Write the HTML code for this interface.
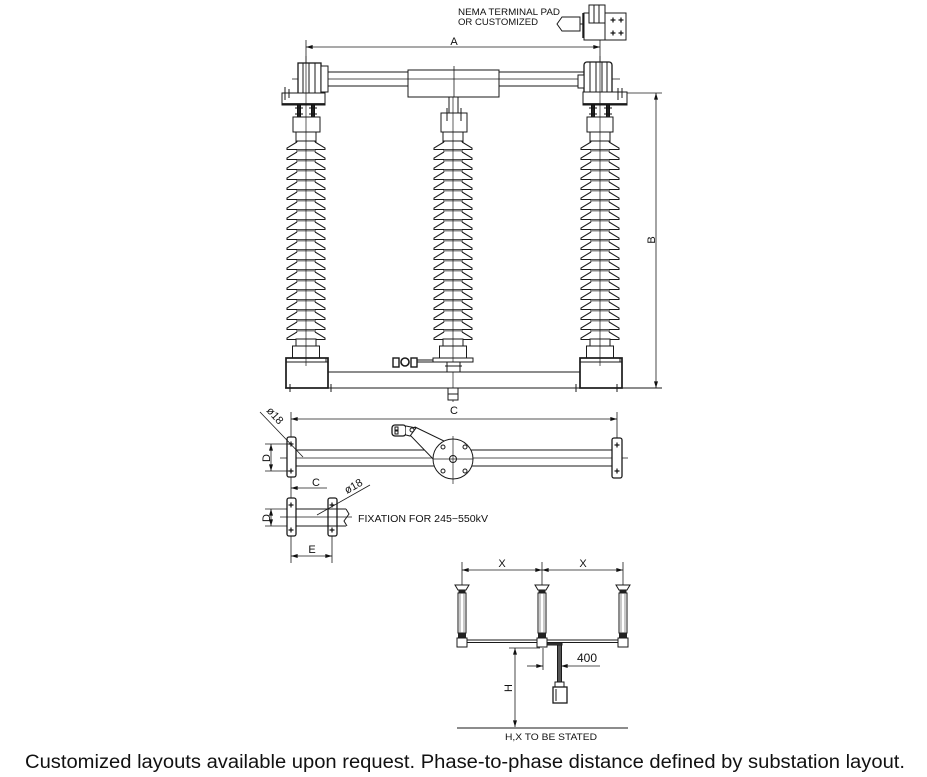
<!DOCTYPE html>
<html><head><meta charset="utf-8"><style>
html,body{margin:0;padding:0;background:#fff;}
svg{display:block;}
</style></head><body>
<svg width="927" height="777" viewBox="0 0 927 777" xmlns="http://www.w3.org/2000/svg" font-family="Liberation Sans, sans-serif">
<defs>
<marker id="ar" viewBox="0 0 10 6" refX="10" refY="3" markerWidth="7" markerHeight="4" orient="auto-start-reverse" markerUnits="userSpaceOnUse">
<path d="M0,0 L10,3 L0,6 z" fill="#111"/>
</marker>
<g id="shed">
 <path d="M-9,0 L-19,6 L-19,7.5 L19,7.5 L19,6 L9,0" fill="#fff" stroke="#1a1a1a" stroke-width="1.05"/>
 <rect x="-9" y="7.5" width="18" height="2" fill="#8a8a8a"/>
</g>
<g id="ins">
 <rect x="-10" y="132" width="20" height="10" fill="#fff" stroke="#1a1a1a"/>
 <rect x="-9" y="141" width="18" height="199" fill="#fff" stroke="#1a1a1a"/>
 <use href="#shed" y="142"/><use href="#shed" y="152"/><use href="#shed" y="162"/><use href="#shed" y="172"/>
 <use href="#shed" y="182"/><use href="#shed" y="192"/><use href="#shed" y="202"/><use href="#shed" y="212"/>
 <use href="#shed" y="222"/><use href="#shed" y="232"/><use href="#shed" y="242"/><use href="#shed" y="252"/>
 <use href="#shed" y="262"/><use href="#shed" y="272"/><use href="#shed" y="282"/><use href="#shed" y="292"/>
 <use href="#shed" y="302"/><use href="#shed" y="312"/><use href="#shed" y="322"/><use href="#shed" y="332"/>
 <rect x="-10" y="339" width="20" height="7" fill="#fff" stroke="#1a1a1a"/>
 <rect x="-13.5" y="346" width="27" height="12" fill="#fff" stroke="#1a1a1a"/>
 <rect x="-20" y="358" width="40" height="4" fill="#fff" stroke="#1a1a1a"/>
</g>
<g id="cross">
 <line x1="-2.5" y1="0" x2="2.5" y2="0" stroke="#111" stroke-width="1.2"/>
 <line x1="0" y1="-2.5" x2="0" y2="2.5" stroke="#111" stroke-width="1.2"/>
</g>
<g id="mini">
 <path d="M-7,585 L7,585 L4,590 L-4,590 Z" fill="#fff" stroke="#1a1a1a"/>
 <rect x="-3.5" y="590" width="7" height="3" fill="#222"/>
 <rect x="-4" y="593" width="8" height="40" fill="#fff" stroke="#1a1a1a"/>
 <line x1="-2" y1="593" x2="-2" y2="633" stroke="#666" stroke-width="0.7"/>
 <line x1="2" y1="593" x2="2" y2="633" stroke="#666" stroke-width="0.7"/>
 <rect x="-4" y="633" width="8" height="5" fill="#222"/>
 <rect x="-5" y="638" width="10" height="9" fill="#fff" stroke="#1a1a1a"/>
</g>
</defs>

<g stroke="#1a1a1a" stroke-width="1" fill="none">
<path d="M557,24 L562,17 L580,17 L580,31 L562,31 Z" fill="#fff"/>
<line x1="580" y1="24" x2="583" y2="24"/>
<line x1="583" y1="13" x2="583" y2="38" stroke-width="1.4"/>
<rect x="584" y="13" width="21" height="27" fill="#fff"/>
<rect x="589" y="5" width="16" height="18" fill="#fff"/>
<line x1="594" y1="5" x2="594" y2="23"/>
<line x1="599" y1="5" x2="599" y2="23"/>
<rect x="605" y="13" width="21" height="27" fill="#fff"/>
</g>
<use href="#cross" x="613" y="20"/><use href="#cross" x="621" y="20"/>
<use href="#cross" x="613" y="33"/><use href="#cross" x="621" y="33"/>
<text x="458" y="15" font-size="9.5" fill="#111" textLength="102" lengthAdjust="spacingAndGlyphs">NEMA TERMINAL PAD</text>
<text x="458" y="25" font-size="9.5" fill="#111" textLength="80" lengthAdjust="spacingAndGlyphs">OR CUSTOMIZED</text>

<g stroke="#1a1a1a" stroke-width="1" fill="none">
<line x1="306" y1="40" x2="306" y2="64" stroke-width="0.8"/>
<line x1="600" y1="40" x2="600" y2="64" stroke-width="0.8"/>
<line x1="306" y1="47" x2="600" y2="47" stroke-width="0.8" marker-start="url(#ar)" marker-end="url(#ar)"/>

<line x1="322" y1="72" x2="584" y2="72"/>
<line x1="322" y1="86" x2="584" y2="86"/>
<line x1="292" y1="79" x2="620" y2="79" stroke-width="0.8"/>
<rect x="408" y="70" width="91" height="27" fill="#fff"/>
<line x1="408" y1="79" x2="499" y2="79" stroke-width="0.8"/>
<line x1="454" y1="66" x2="454" y2="97" stroke-width="0.8"/>
<rect x="449" y="97" width="9" height="16" fill="#fff"/>
<rect x="441" y="113" width="26" height="19" fill="#fff"/>
<line x1="447" y1="108" x2="447" y2="121"/>
<line x1="461" y1="108" x2="461" y2="121"/>

<rect x="298" y="63" width="23" height="33" fill="#fff" stroke-width="1.3"/>
<line x1="303" y1="63" x2="303" y2="96"/>
<line x1="309" y1="63" x2="309" y2="96"/>
<line x1="315" y1="63" x2="315" y2="96"/>
<rect x="321" y="66" width="7" height="26" fill="#fff"/>
<rect x="282" y="93" width="43" height="12" fill="#fff"/>
<line x1="282" y1="104" x2="325" y2="104" stroke-width="1.8"/>
<line x1="285" y1="87" x2="285" y2="100"/>
<line x1="289" y1="89" x2="289" y2="98"/>
<rect x="584" y="62" width="28" height="34" rx="3" fill="#fff" stroke-width="1.3"/>
<line x1="590" y1="62" x2="590" y2="96"/>
<line x1="596" y1="62" x2="596" y2="96"/>
<line x1="602" y1="62" x2="602" y2="96"/>
<line x1="607" y1="62" x2="607" y2="96"/>
<rect x="578" y="75" width="6" height="13" fill="#fff"/>
<rect x="583" y="92" width="44" height="13" fill="#fff"/>
<line x1="583" y1="104" x2="627" y2="104" stroke-width="1.8"/>
<line x1="618" y1="88" x2="618" y2="100"/>
<line x1="622" y1="88" x2="622" y2="98"/>
</g>

<g fill="#222" stroke="#111" stroke-width="1">
<rect x="297.5" y="105" width="3" height="12"/><line x1="295" y1="108" x2="303" y2="108"/><line x1="295" y1="114" x2="303" y2="114"/>
<rect x="311.5" y="105" width="3" height="12"/><line x1="309" y1="108" x2="317" y2="108"/><line x1="309" y1="114" x2="317" y2="114"/>
<rect x="591.5" y="105" width="3" height="12"/><line x1="589" y1="108" x2="597" y2="108"/><line x1="589" y1="114" x2="597" y2="114"/>
<rect x="606.5" y="105" width="3" height="12"/><line x1="604" y1="108" x2="612" y2="108"/><line x1="604" y1="114" x2="612" y2="114"/>
</g>
<g stroke="#1a1a1a" fill="#fff">
<rect x="293" y="117" width="27" height="15"/>
<rect x="587" y="117" width="26" height="15"/>
</g>

<use href="#ins" x="306"/>
<use href="#ins" x="453"/>
<use href="#ins" x="600"/>

<g stroke="#1a1a1a" stroke-width="1" fill="none">
<line x1="306" y1="56" x2="306" y2="366" stroke-width="0.7"/>
<line x1="453" y1="97" x2="453" y2="402" stroke-width="0.7"/>
<line x1="600" y1="56" x2="600" y2="366" stroke-width="0.7"/>

<rect x="286" y="358" width="42" height="30" stroke-width="1.7"/>
<line x1="286" y1="362" x2="328" y2="362"/>
<rect x="580" y="358" width="42" height="30" stroke-width="1.7"/>
<line x1="580" y1="362" x2="622" y2="362"/>
<line x1="328" y1="372" x2="580" y2="372"/>
<line x1="285" y1="388" x2="662" y2="388"/>
<line x1="290" y1="384" x2="290" y2="392"/><line x1="331" y1="384" x2="331" y2="392"/><line x1="327" y1="388" x2="335" y2="388"/>
<line x1="576" y1="384" x2="576" y2="392"/><line x1="617" y1="384" x2="617" y2="392"/>
<rect x="447" y="362" width="13" height="10" fill="#fff"/>
<line x1="445" y1="366" x2="462" y2="366"/>
<rect x="448" y="388" width="10" height="12" fill="#fff"/>
<line x1="448" y1="394" x2="458" y2="394"/>
<line x1="417" y1="360" x2="433" y2="360"/>
<line x1="417" y1="362" x2="433" y2="362"/>
<circle cx="405" cy="362" r="4" stroke-width="1.6"/>
<rect x="393" y="358" width="6" height="9" stroke-width="1.4"/>
<rect x="411" y="358" width="6" height="9" stroke-width="1.4"/>

<line x1="627" y1="93" x2="662" y2="93" stroke-width="0.8"/>
<line x1="656" y1="93" x2="656" y2="388" stroke-width="0.8" marker-start="url(#ar)" marker-end="url(#ar)"/>
</g>
<text x="651" y="240" font-size="11" fill="#111" text-anchor="middle" transform="rotate(-90 651 240)" dy="4">B</text>
<text x="454" y="45" font-size="11" fill="#111" text-anchor="middle">A</text>

<g stroke="#1a1a1a" stroke-width="1" fill="none">
<line x1="291" y1="412" x2="291" y2="563" stroke-width="0.8"/>
<line x1="617" y1="412" x2="617" y2="438" stroke-width="0.8"/>
<line x1="291" y1="419" x2="617" y2="419" stroke-width="0.8" marker-start="url(#ar)" marker-end="url(#ar)"/>
<line x1="295" y1="450" x2="612" y2="450"/>
<line x1="295" y1="466" x2="612" y2="466"/>
<line x1="280" y1="458" x2="628" y2="458" stroke-width="0.7"/>
<rect x="287" y="437" width="9" height="40" rx="2" fill="#fff" stroke-width="1.3"/>
<rect x="612" y="438" width="10" height="40" rx="2" fill="#fff" stroke-width="1.3"/>
<path d="M415,427 L444,441 L436,462 L409,434 Z" fill="#fff"/>
<circle cx="453" cy="459" r="20" fill="#fff"/>
<line x1="433" y1="459" x2="473" y2="459" stroke-width="0.7"/>
<line x1="453" y1="436" x2="453" y2="484" stroke-width="0.7"/>
<circle cx="453" cy="459" r="3.5"/>
<circle cx="443" cy="447" r="2"/><circle cx="465" cy="447" r="2"/>
<circle cx="443" cy="471" r="2"/><circle cx="465" cy="471" r="2"/>
<rect x="392" y="425" width="14" height="11" rx="3" fill="#fff" stroke-width="1.3"/>
<rect x="395" y="427" width="3" height="3"/><rect x="395" y="431" width="3" height="3"/>
<path d="M406,426 L416,428 L410,436 L406,435" fill="#fff"/>
<circle cx="412" cy="430" r="2"/>
<line x1="260" y1="412" x2="303" y2="457" stroke-width="0.8"/>
<line x1="265" y1="444" x2="289" y2="444" stroke-width="0.8"/>
<line x1="265" y1="471" x2="289" y2="471" stroke-width="0.8"/>
<line x1="271" y1="444" x2="271" y2="471" stroke-width="0.8" marker-start="url(#ar)" marker-end="url(#ar)"/>
<line x1="327" y1="488" x2="291" y2="488" stroke-width="0.8" marker-end="url(#ar)"/>
<rect x="287" y="498" width="9" height="38" rx="2" fill="#fff" stroke-width="1.3"/>
<rect x="328" y="498" width="9" height="38" rx="2" fill="#fff" stroke-width="1.3"/>
<line x1="296" y1="509" x2="346" y2="509"/>
<line x1="296" y1="526" x2="346" y2="526"/>
<path d="M346,509 L349,514 L344,521 L347,526"/>
<line x1="280" y1="517" x2="352" y2="517" stroke-width="0.7"/>
<line x1="317" y1="515" x2="370" y2="485" stroke-width="0.8"/>
<line x1="265" y1="509" x2="287" y2="509" stroke-width="0.8"/>
<line x1="265" y1="526" x2="287" y2="526" stroke-width="0.8"/>
<line x1="271" y1="509" x2="271" y2="526" stroke-width="0.8" marker-start="url(#ar)" marker-end="url(#ar)"/>
<line x1="332" y1="536" x2="332" y2="563" stroke-width="0.8"/>
<line x1="291" y1="556" x2="332" y2="556" stroke-width="0.8" marker-start="url(#ar)" marker-end="url(#ar)"/>
</g>
<use href="#cross" x="291" y="444"/><use href="#cross" x="291" y="471"/>
<use href="#cross" x="617" y="445"/><use href="#cross" x="617" y="471"/>
<use href="#cross" x="291" y="505"/><use href="#cross" x="291" y="530"/>
<use href="#cross" x="332" y="505"/><use href="#cross" x="332" y="530"/>
<g font-size="11" fill="#111">
<text x="454" y="414" text-anchor="middle">C</text>
<text x="316" y="486" text-anchor="middle">C</text>
<text x="312" y="553" text-anchor="middle">E</text>
<text x="266" y="458" text-anchor="middle" transform="rotate(-90 266 458)" dy="4">D</text>
<text x="266" y="518" text-anchor="middle" transform="rotate(-90 266 518)" dy="4">D</text>
<text x="266" y="411" transform="rotate(47.7 266 411)">ø18</text>
<text x="347" y="494" transform="rotate(-29.5 347 494)">ø18</text>
</g>
<text x="358" y="522" font-size="10" fill="#111" textLength="130" lengthAdjust="spacingAndGlyphs">FIXATION FOR 245−550kV</text>

<g stroke="#1a1a1a" stroke-width="1" fill="none">
<line x1="462" y1="562" x2="462" y2="586" stroke-width="0.8"/>
<line x1="542" y1="562" x2="542" y2="586" stroke-width="0.8"/>
<line x1="623" y1="562" x2="623" y2="586" stroke-width="0.8"/>
<line x1="462" y1="570" x2="542" y2="570" stroke-width="0.8" marker-start="url(#ar)" marker-end="url(#ar)"/>
<line x1="542" y1="570" x2="623" y2="570" stroke-width="0.8" marker-start="url(#ar)" marker-end="url(#ar)"/>
</g>
<use href="#mini" x="462"/>
<use href="#mini" x="542"/>
<use href="#mini" x="623"/>
<g stroke="#1a1a1a" stroke-width="1" fill="none">
<rect x="467" y="640" width="70" height="2.5" fill="#fff"/>
<rect x="547" y="640" width="71" height="2.5" fill="#fff"/>
<rect x="547" y="643" width="15" height="2" fill="#444"/>
<rect x="557.5" y="645" width="4" height="38" fill="#555"/>
<rect x="555" y="682" width="9" height="5" fill="#fff"/>
<rect x="553" y="687" width="14" height="16" fill="#fff" stroke-width="1.3"/>
<line x1="556" y1="689" x2="556" y2="701"/>
<line x1="509" y1="648" x2="540" y2="648" stroke-width="0.8"/>
<line x1="515" y1="648" x2="515" y2="727" stroke-width="0.8" marker-start="url(#ar)" marker-end="url(#ar)"/>
<line x1="543" y1="648" x2="543" y2="670" stroke-width="0.8"/>
<line x1="527" y1="666" x2="543" y2="666" stroke-width="0.8" marker-end="url(#ar)"/>
<line x1="600" y1="666" x2="561" y2="666" stroke-width="0.8" marker-end="url(#ar)"/>
<line x1="457" y1="728" x2="628" y2="728"/>
</g>
<g font-size="11" fill="#111">
<text x="502" y="567" text-anchor="middle">X</text>
<text x="583" y="567" text-anchor="middle">X</text>
<text x="508" y="688" text-anchor="middle" transform="rotate(-90 508 688)" dy="4">H</text>
</g>
<text x="587" y="662" font-size="12" fill="#111" text-anchor="middle">400</text>
<text x="505" y="740" font-size="9" fill="#111" textLength="92" lengthAdjust="spacingAndGlyphs">H,X TO BE STATED</text>

<text x="25" y="768" font-size="19" fill="#111" textLength="880" lengthAdjust="spacingAndGlyphs">Customized layouts available upon request. Phase-to-phase distance defined by substation layout.</text>
</svg>
</body></html>
